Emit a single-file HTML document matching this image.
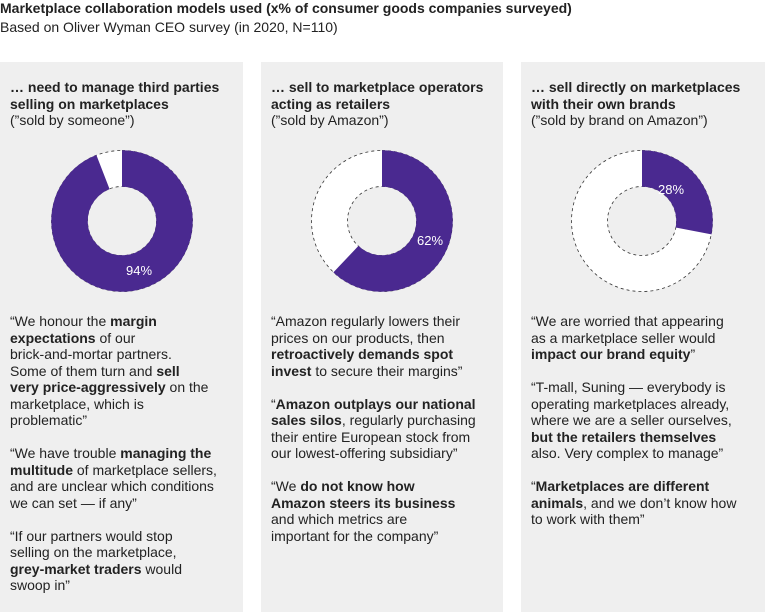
<!DOCTYPE html>
<html><head><meta charset="utf-8"><style>
body{margin:0;width:765px;height:612px;background:#fff;font-family:"Liberation Sans",sans-serif;color:#222;position:relative;overflow:hidden}
.t{position:absolute;left:0;top:0;font-size:14px;font-weight:bold;line-height:17px}
.s{position:absolute;left:0;top:19px;font-size:14px;line-height:17px}
.p{position:absolute;top:62px;height:550px;background:#efefef}
.h{position:absolute;left:10px;top:17px;font-size:14px;line-height:16.5px}
.q{position:absolute;left:10px;top:251px;font-size:14px;line-height:16.5px}
.q p{margin:0 0 16.5px 0}
svg{position:absolute;left:0;top:0}
</style></head><body>
<div class="t">Marketplace collaboration models used (x% of consumer goods companies surveyed)</div>
<div class="s">Based on Oliver Wyman CEO survey (in 2020, N=110)</div>

<div class="p" style="left:0;width:243px">
<div class="h"><b>… need to manage third parties<br>selling on marketplaces</b><br>(”sold by someone”)</div>
<svg width="243" height="300"><g transform="translate(122,159) rotate(-90)">
<circle r="52.5" fill="none" stroke="#fff" stroke-width="36"/>
<circle r="70.5" fill="none" stroke="#333" stroke-width="0.8" stroke-dasharray="3,3"/>
<circle r="34.5" fill="none" stroke="#333" stroke-width="0.8" stroke-dasharray="3,3"/>
<circle r="52.5" fill="none" stroke="#4a2990" stroke-width="36.5" stroke-dasharray="310.08 400"/>
</g><text x="139" y="213" fill="#fff" font-size="13" text-anchor="middle">94%</text></svg>
<div class="q"><p>“We honour the <b>margin<br>expectations</b> of our<br>brick-and-mortar partners.<br>Some of them turn and <b>sell<br>very price-aggressively</b> on the<br>marketplace, which is<br>problematic”</p><p>“We have trouble <b>managing the<br>multitude</b> of marketplace sellers,<br>and are unclear which conditions<br>we can set — if any”</p><p>“If our partners would stop<br>selling on the marketplace,<br><b>grey-market traders</b> would<br>swoop in”</p></div>
</div>

<div class="p" style="left:261px;width:242px">
<div class="h"><b>… sell to marketplace operators<br>acting as retailers</b><br>(”sold by Amazon”)</div>
<svg width="242" height="300"><g transform="translate(121,159) rotate(-90)">
<circle r="52.5" fill="none" stroke="#fff" stroke-width="36"/>
<circle r="70.5" fill="none" stroke="#333" stroke-width="0.8" stroke-dasharray="3,3"/>
<circle r="34.5" fill="none" stroke="#333" stroke-width="0.8" stroke-dasharray="3,3"/>
<circle r="52.5" fill="none" stroke="#4a2990" stroke-width="36.5" stroke-dasharray="204.52 400"/>
</g><text x="169" y="183" fill="#fff" font-size="13" text-anchor="middle">62%</text></svg>
<div class="q"><p>“Amazon regularly lowers their<br>prices on our products, then<br><b>retroactively demands spot<br>invest</b> to secure their margins”</p><p>“<b>Amazon outplays our national<br>sales silos</b>, regularly purchasing<br>their entire European stock from<br>our lowest-offering subsidiary”</p><p>“We <b>do not know how<br>Amazon steers its business</b><br>and which metrics are<br>important for the company”</p></div>
</div>

<div class="p" style="left:521px;width:244px">
<div class="h"><b>… sell directly on marketplaces<br>with their own brands</b><br>(”sold by brand on Amazon”)</div>
<svg width="244" height="300"><g transform="translate(121,159) rotate(-90)">
<circle r="52.5" fill="none" stroke="#fff" stroke-width="36"/>
<circle r="70.5" fill="none" stroke="#333" stroke-width="0.8" stroke-dasharray="3,3"/>
<circle r="34.5" fill="none" stroke="#333" stroke-width="0.8" stroke-dasharray="3,3"/>
<circle r="52.5" fill="none" stroke="#4a2990" stroke-width="36.5" stroke-dasharray="92.36 400"/>
</g><text x="150" y="132" fill="#fff" font-size="13" text-anchor="middle">28%</text></svg>
<div class="q"><p>“We are worried that appearing<br>as a marketplace seller would<br><b>impact our brand equity</b>”</p><p>“T-mall, Suning — everybody is<br>operating marketplaces already,<br>where we are a seller ourselves,<br><b>but the retailers themselves</b><br>also. Very complex to manage”</p><p>“<b>Marketplaces are different<br>animals</b>, and we don’t know how<br>to work with them”</p></div>
</div>
</body></html>
